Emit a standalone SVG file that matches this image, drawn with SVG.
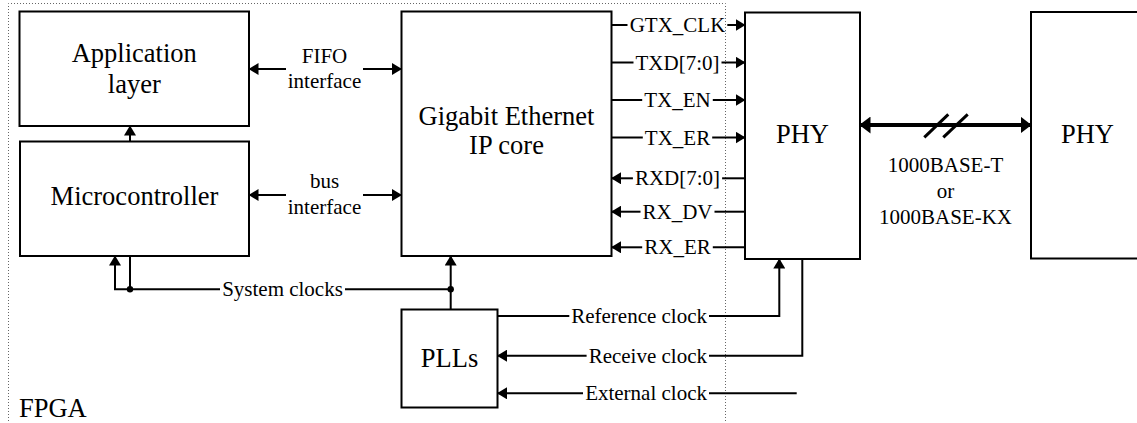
<svg xmlns="http://www.w3.org/2000/svg" width="1137" height="423" viewBox="0 0 1137 423">
<style>
.box{fill:#fff;stroke:#000;stroke-width:2}
.ln{fill:none;stroke:#000;stroke-width:2}
.thk{fill:none;stroke:#000;stroke-width:4}
.big{font-family:"Liberation Serif","Times New Roman",serif;font-size:26.5px;fill:#000}
.sm{font-family:"Liberation Serif","Times New Roman",serif;font-size:21px;fill:#000}
.mid{text-anchor:middle}
.end{text-anchor:end}
.frame{fill:none;stroke:#666;stroke-width:1;stroke-dasharray:1 2}
</style>
<defs>
<marker id="ah" markerUnits="userSpaceOnUse" viewBox="0 0 10 12" refX="9.5" refY="6" markerWidth="10" markerHeight="12" orient="auto-start-reverse">
<path d="M0,0 L10,6 L0,12 z" fill="#000"/>
</marker>
<marker id="ahb" markerUnits="userSpaceOnUse" viewBox="0 0 11 17" refX="10.5" refY="8.5" markerWidth="11" markerHeight="17" orient="auto-start-reverse">
<path d="M0,0 L11,8.5 L0,17 z" fill="#000"/>
</marker>
</defs>

<g id="fpga">
<path class="frame" d="M8.5,430 V3.5 H725.5 V430"/>
<text class="big" x="19" y="416.7">FPGA</text>
</g>

<g id="app">
<rect class="box" x="19.5" y="11.5" width="229.5" height="114.5"/>
<text class="big mid" x="134.25" y="61.7">Application</text>
<text class="big mid" x="134.25" y="93.3">layer</text>
</g>

<g id="mcu">
<rect class="box" x="20" y="141.5" width="229" height="114.5"/>
<text class="big mid" x="134.5" y="205">Microcontroller</text>
</g>

<g id="gige">
<rect class="box" x="401.5" y="11.5" width="210" height="244.5"/>
<text class="big mid" x="506.5" y="125">Gigabit Ethernet</text>
<text class="big mid" x="506.5" y="154">IP core</text>
</g>

<g id="phy1">
<rect class="box" x="745" y="12.5" width="115" height="246.5"/>
<text class="big mid" x="802.5" y="143.3">PHY</text>
</g>

<g id="phy2">
<rect class="box" x="1031" y="12" width="115" height="246.5"/>
<text class="big mid" x="1087.5" y="143.3">PHY</text>
</g>

<g id="plls">
<rect class="box" x="401.5" y="309.5" width="96" height="98"/>
<text class="big mid" x="449.5" y="366.7">PLLs</text>
</g>

<g id="connectors">
<line class="ln" x1="130" y1="141.5" x2="130" y2="126" marker-end="url(#ah)"/>
<line class="ln" x1="249" y1="69" x2="286" y2="69" marker-start="url(#ah)"/>
<line class="ln" x1="363" y1="69" x2="401.5" y2="69" marker-end="url(#ah)"/>
<text class="sm mid" x="324.5" y="62.5">FIFO</text>
<text class="sm mid" x="324.5" y="88">interface</text>
<line class="ln" x1="249" y1="195" x2="286" y2="195" marker-start="url(#ah)"/>
<line class="ln" x1="363" y1="195" x2="401.5" y2="195" marker-end="url(#ah)"/>
<text class="sm mid" x="324.5" y="188">bus</text>
<text class="sm mid" x="324.5" y="214">interface</text>

<line class="ln" x1="611.5" y1="25" x2="627.5" y2="25"/>
<line class="ln" x1="727.3" y1="25" x2="745" y2="25" marker-end="url(#ah)"/>
<text class="sm mid" x="677.5" y="32">GTX_CLK</text>

<line class="ln" x1="611.5" y1="62.5" x2="633.5" y2="62.5"/>
<line class="ln" x1="721.5" y1="62.5" x2="745" y2="62.5" marker-end="url(#ah)"/>
<text class="sm mid" x="677.5" y="69.5">TXD[7:0]</text>

<line class="ln" x1="611.5" y1="100" x2="642.2" y2="100"/>
<line class="ln" x1="712.8" y1="100" x2="745" y2="100" marker-end="url(#ah)"/>
<text class="sm mid" x="677.5" y="107">TX_EN</text>

<line class="ln" x1="611.5" y1="137.5" x2="642.8" y2="137.5"/>
<line class="ln" x1="712.2" y1="137.5" x2="745" y2="137.5" marker-end="url(#ah)"/>
<text class="sm mid" x="677.5" y="144.5">TX_ER</text>

<line class="ln" x1="745" y1="178.3" x2="722.1" y2="178.3"/>
<line class="ln" x1="632.9" y1="178.3" x2="611.5" y2="178.3" marker-end="url(#ah)"/>
<text class="sm mid" x="677.5" y="185.3">RXD[7:0]</text>

<line class="ln" x1="745" y1="211.7" x2="714.5" y2="211.7"/>
<line class="ln" x1="640.5" y1="211.7" x2="611.5" y2="211.7" marker-end="url(#ah)"/>
<text class="sm mid" x="677.5" y="218.7">RX_DV</text>

<line class="ln" x1="745" y1="247.3" x2="712.8" y2="247.3"/>
<line class="ln" x1="642.2" y1="247.3" x2="611.5" y2="247.3" marker-end="url(#ah)"/>
<text class="sm mid" x="677.5" y="254.3">RX_ER</text>

<line class="thk" x1="860" y1="125" x2="1031" y2="125" marker-start="url(#ahb)" marker-end="url(#ahb)"/>
<line x1="924.3" y1="137.3" x2="948.3" y2="114.3" stroke="#000" stroke-width="3"/>
<line x1="943.3" y1="137.3" x2="967.7" y2="114.3" stroke="#000" stroke-width="3"/>
<text class="sm mid" x="945.5" y="172.3">1000BASE-T</text>
<text class="sm mid" x="945.5" y="198.3">or</text>
<text class="sm mid" x="945.5" y="224.3">1000BASE-KX</text>

<line class="ln" x1="130" y1="256" x2="130" y2="289.3"/>
<path class="ln" d="M130,289.3 H115 V256" marker-end="url(#ah)"/>
<circle cx="130" cy="289.3" r="3.2" fill="#000"/>
<line class="ln" x1="130" y1="289.3" x2="220" y2="289.3"/>
<line class="ln" x1="345" y1="289.3" x2="450.7" y2="289.3"/>
<text class="sm mid" x="282.5" y="296.3">System clocks</text>
<line class="ln" x1="450.7" y1="309.5" x2="450.7" y2="256" marker-end="url(#ah)"/>
<circle cx="450.7" cy="289.3" r="3.2" fill="#000"/>

<line class="ln" x1="497.5" y1="316" x2="569.3" y2="316"/>
<path class="ln" d="M709,316 H779.3 V259" marker-end="url(#ah)"/>
<text class="sm end" x="707" y="323">Reference clock</text>

<path class="ln" d="M802.3,259 V355.7 H709"/>
<line class="ln" x1="586.6" y1="355.7" x2="497.5" y2="355.7" marker-end="url(#ah)"/>
<text class="sm end" x="707" y="362.7">Receive clock</text>

<line class="ln" x1="796.7" y1="393.3" x2="709" y2="393.3"/>
<line class="ln" x1="583" y1="393.3" x2="497.5" y2="393.3" marker-end="url(#ah)"/>
<text class="sm end" x="707" y="400.3">External clock</text>
</g>
</svg>
